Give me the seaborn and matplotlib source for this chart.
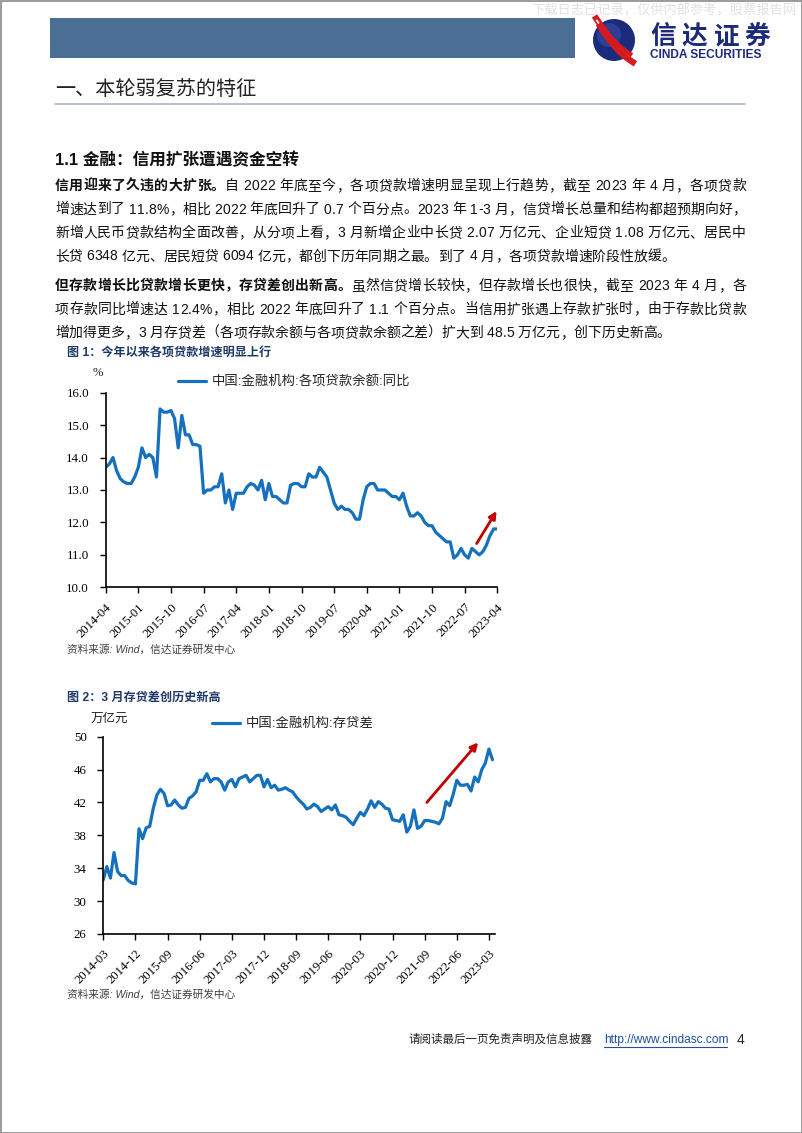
import numpy as np
import pandas as pd
import matplotlib
matplotlib.use("Agg")
import matplotlib.pyplot as plt
import seaborn as sns
from matplotlib import font_manager as fm
from matplotlib.ft2font import FT2Font
from matplotlib.patches import Rectangle, Circle
try:
    from matplotlib.ft2font import LoadFlags
    NOHINT = LoadFlags.NO_HINTING
except ImportError:  # older matplotlib
    from matplotlib.ft2font import LOAD_NO_HINTING as NOHINT

# ---------------------------------------------------------------- data
loan_start = "2014-04"
loan_growth = [
    13.7, 13.8, 14.0, 13.6, 13.35, 13.25, 13.2, 13.2, 13.4, 13.7,
    14.3, 14.0, 14.1, 14.0, 13.4, 15.5, 15.4, 15.4, 15.45, 15.2,
    14.3, 15.3, 14.7, 14.7, 14.4, 14.4, 14.35, 12.9, 13.0, 13.0,
    13.1, 13.1, 13.5, 12.6, 13.0, 12.4, 12.9, 12.9, 12.9, 13.1,
    13.2, 13.15, 13.0, 13.3, 12.7, 13.2, 12.8, 12.8, 12.7, 12.6,
    12.6, 13.15, 13.2, 13.2, 13.1, 13.1, 13.5, 13.4, 13.4, 13.7,
    13.55, 13.4, 13.0, 12.6, 12.4, 12.5, 12.4, 12.4, 12.3, 12.1,
    12.1, 12.7, 13.1, 13.2, 13.2, 13.0, 13.0, 13.0, 12.9, 12.8,
    12.8, 12.7, 12.9, 12.5, 12.2, 12.2, 12.3, 12.2, 12.0, 11.9,
    11.9, 11.7, 11.6, 11.5, 11.4, 11.4, 10.9, 11.0, 11.2, 11.0,
    10.9, 11.2, 11.1, 11.0, 11.1, 11.3, 11.6, 11.8, 11.8,
]
gap_start = "2014-03"
deposit_loan_gap = [
    32.6, 34.2, 32.8, 35.9, 33.6, 33.1, 33.1, 32.5, 32.2, 32.1,
    38.8, 37.6, 38.9, 39.1, 41.3, 42.9, 43.6, 43.1, 41.6, 41.7,
    42.3, 41.7, 41.3, 41.4, 42.5, 42.8, 43.3, 44.7, 44.7, 45.5,
    44.5, 44.9, 44.9, 44.5, 43.5, 44.5, 44.8, 43.9, 44.9, 45.1,
    45.3, 44.5, 44.9, 45.3, 45.3, 43.9, 44.8, 43.8, 44.1, 43.5,
    43.6, 43.8, 43.5, 43.3, 42.7, 42.2, 41.8, 41.2, 41.4, 41.8,
    41.5, 40.9, 41.2, 41.5, 41.1, 41.7, 40.5, 40.4, 40.2, 39.7,
    39.3, 40.1, 40.8, 40.4, 41.2, 42.2, 41.4, 42.1, 41.8, 41.3,
    41.2, 39.9, 39.8, 39.7, 40.5, 38.4, 39.1, 41.1, 38.85, 39.1,
    39.8, 39.8, 39.7, 39.6, 39.4, 40.1, 42.1, 41.6, 43.0, 44.7,
    44.1, 44.1, 44.2, 43.4, 45.1, 44.5, 46.0, 46.8, 48.5, 47.2,
]
chart1_ticks = ["2014-04", "2015-01", "2015-10", "2016-07", "2017-04", "2018-01", "2018-10",
                "2019-07", "2020-04", "2021-01", "2021-10", "2022-07", "2023-04"]
chart2_ticks = ["2014-03", "2014-12", "2015-09", "2016-06", "2017-03", "2017-12", "2018-09",
                "2019-06", "2020-03", "2020-12", "2021-09", "2022-06", "2023-03"]
chart1_yticks = [10.0, 11.0, 12.0, 13.0, 14.0, 15.0, 16.0]
chart2_yticks = [26, 30, 34, 38, 42, 46, 50]
series1_name = "中国:金融机构:各项贷款余额:同比"
series2_name = "中国:金融机构:存贷差"
# trend arrows (month offset, value)
arrow1 = [(102.3, 11.35), (107.8, 12.35)]
arrow2 = [(90.6, 42.0), (105.0, 49.3)]

title_main = "一、本轮弱复苏的特征"
title_sub = "1.1 金融：信用扩张遭遇资金空转"
para1 = [
    [("信用迎来了久违的大扩张。", True), ("自 2022 年底至今，各项贷款增速明显呈现上行趋势，截至 2023 年 4 月，各项贷款", False)],
    [("增速达到了 11.8%，相比 2022 年底回升了 0.7 个百分点。2023 年 1-3 月，信贷增长总量和结构都超预期向好，", False)],
    [("新增人民币贷款结构全面改善，从分项上看，3 月新增企业中长贷 2.07 万亿元、企业短贷 1.08 万亿元、居民中", False)],
    [("长贷 6348 亿元、居民短贷 6094 亿元，都创下历年同期之最。到了 4 月，各项贷款增速阶段性放缓。", False)],
]
para2 = [
    [("但存款增长比贷款增长更快，存贷差创出新高。", True), ("虽然信贷增长较快，但存款增长也很快，截至 2023 年 4 月，各", False)],
    [("项存款同比增速达 12.4%，相比 2022 年底回升了 1.1 个百分点。当信用扩张遇上存款扩张时，由于存款比贷款", False)],
    [("增加得更多，3 月存贷差（各项存款余额与各项贷款余额之差）扩大到 48.5 万亿元，创下历史新高。", False)],
]
cap1 = "图 1：今年以来各项贷款增速明显上行"
cap2 = "图 2：3 月存贷差创历史新高"
source_txt = "资料来源: Wind，信达证券研发中心"
brand_cn = "信达证券"
brand_en = "CINDA SECURITIES"

# ---------------------------------------------------------------- style
sns.set_theme(style="ticks")
FAM = ["Liberation Sans", "Noto Sans CJK SC", "DejaVu Sans"]
SERIF = ["Liberation Serif", "Noto Sans CJK SC"]
plt.rcParams["font.family"] = FAM
plt.rcParams["axes.edgecolor"] = "black"
plt.rcParams["xtick.color"] = "black"
plt.rcParams["ytick.color"] = "black"

LINE_C = "#1570BE"
ARROW_C = "#C00000"
NAVY = "#1F3A68"

W, H = 802, 1133
fig = plt.figure(figsize=(W / 100, H / 100), dpi=100)
fig.patch.set_facecolor("white")

ov = fig.add_axes([0, 0, 1, 1], zorder=0)
ov.set_xlim(0, W)
ov.set_ylim(H, 0)
ov.axis("off")

# ---------------------------------------------------------------- text helpers
FONT_LATIN = "Liberation Sans"
FONT_CJK = "Noto Sans CJK SC"
_fonts = {}


def get_font(family, bold):
    key = (family, bold)
    if key not in _fonts:
        path = fm.findfont(fm.FontProperties(family=family, weight="bold" if bold else "normal"))
        _fonts[key] = FT2Font(path)
    return _fonts[key]


latin_cmap = get_font(FONT_LATIN, False).get_charmap()


def advance(ch, family, bold, size):
    f = get_font(family, bold)
    f.set_size(size, 100)
    g = f.load_char(ord(ch), flags=NOHINT)
    return g.linearHoriAdvance / 65536


def draw_line(runs, x0, y, x1=None, size=10, color="#111111"):
    items = []
    for s, b in runs:
        for ch in s:
            fam = FONT_LATIN if (ord(ch) < 0x2000 and ord(ch) in latin_cmap) else FONT_CJK
            items.append((ch, fam, b, advance(ch, fam, b, size)))
    total = sum(it[3] for it in items)
    gap = (x1 - x0 - total) / (len(items) - 1) if x1 is not None else 0.0
    x = x0
    for ch, fam, b, a in items:
        if ch != " ":
            ov.text(x, y, ch, family=fam, fontweight="bold" if b else "normal", fontsize=size,
                    ha="left", va="baseline", color=color)
        x += a + gap


# ---------------------------------------------------------------- page decoration
ov.add_patch(Rectangle((0.5, 0.5), W - 1, H - 1, fill=False, edgecolor="#8a8a8a", lw=1.2))
ov.add_patch(Rectangle((50, 18), 525, 40, color="#4B6E95", lw=0))
ov.text(531, 11, "下载日志已记录，仅供内部参考，股票报告网", fontsize=9.5, color="#e2e2e2",
        ha="left", va="center")
# logo
logo_circle = Circle((614, 40), 21, color="#1C2C7C", lw=0)
ov.add_patch(logo_circle)
ov.add_patch(Circle((609, 35), 12, color="#3A4FA8", lw=0, alpha=0.55))
tt = np.linspace(0, 1, 40)
for off, lw_, col in [(-5, 4.5, "#D71920"), (-1.2, 1.3, "white"), (2.8, 4.5, "#D71920")]:
    xs = 597 + 37 * tt + off * 0.5
    ys = 21 + 40 * tt + off + 5 * np.sin(np.pi * tt)
    ov.plot(xs, ys, color=col, lw=lw_, solid_capstyle="butt")
for i, ch in enumerate(brand_cn):
    ov.text(650 + i * 31.5, 36.5, ch, fontsize=18.5, fontweight="bold", color="#1D2A7A",
            ha="left", va="center", family=FONT_CJK)
ov.text(650, 54.5, brand_en, fontsize=8.6, fontweight="bold", color="#1D2A7A",
        ha="left", va="center")

# headings
ov.text(55, 89, title_main, fontsize=14.5, color="#222222", ha="left", va="center")
ov.plot([55, 745], [104, 104], color="#A9B8CC", lw=1.2)
ov.text(55, 160, title_sub, fontsize=12, fontweight="bold", color="#111111", ha="left", va="center")

RIGHT = 746
for i, runs in enumerate(para1):
    draw_line(runs, 55, 190 + i * 23.5, RIGHT if i < len(para1) - 1 else None)
for i, runs in enumerate(para2):
    draw_line(runs, 55, 290 + i * 23.5, RIGHT if i < len(para2) - 1 else None)

ov.text(67, 354, cap1, fontsize=8.7, fontweight="bold", color=NAVY, ha="left", va="center")
ov.text(67, 698, cap2, fontsize=8.7, fontweight="bold", color=NAVY, ha="left", va="center")
ov.text(67, 650, source_txt, fontsize=7.7, color="#404040", ha="left", va="center", style="italic")
ov.text(67, 995, source_txt, fontsize=7.7, color="#404040", ha="left", va="center", style="italic")
ov.text(98, 373, "%", fontsize=9, ha="center", va="center", color="#222222", family=SERIF)
ov.text(109, 719, "万亿元", fontsize=9, ha="center", va="center", color="#222222")

# footer
ov.text(408, 1040, "请阅读最后一页免责声明及信息披露", fontsize=8.3, color="#222222", ha="left", va="center")
ov.text(604, 1040, "http://www.cindasc.com", fontsize=8.6, color="#1F4FA0", ha="left", va="center")
ov.plot([604, 727], [1047, 1047], color="#1F4FA0", lw=0.8)
ov.text(737, 1040, "4", fontsize=10, color="#222222", ha="left", va="center")


# ---------------------------------------------------------------- charts
def make_chart(box, start, values, ticks, yticks, name, ylim, xmax, arrow, fmt, leg_anchor):
    l, t, r, b = box
    ax = fig.add_axes([l / W, 1 - b / H, (r - l) / W, (b - t) / H], zorder=2)
    ax.patch.set_alpha(0)
    p0 = pd.Period(start, "M")
    df = pd.DataFrame({"idx": np.arange(len(values)), "value": values})
    sns.lineplot(data=df, x="idx", y="value", ax=ax, color=LINE_C, lw=2.3, label=name)
    tick_pos = [(pd.Period(s, "M") - p0).n for s in ticks]
    ax.set_xticks(tick_pos)
    ax.set_xticklabels(ticks, rotation=45, ha="right", va="top", rotation_mode="anchor",
                       family=SERIF, fontsize=9.2)
    ax.set_yticks(yticks)
    ax.set_yticklabels([fmt.format(v) for v in yticks], family=SERIF, fontsize=9.3)
    ax.set_xlim(0, xmax)
    ax.set_ylim(*ylim)
    ax.set_xlabel("")
    ax.set_ylabel("")
    for s in ["top", "right"]:
        ax.spines[s].set_visible(False)
    for s in ["left", "bottom"]:
        ax.spines[s].set_linewidth(1.2)
        ax.spines[s].set_color("black")
    ax.tick_params(axis="both", direction="out", length=4, width=1)
    ax.tick_params(axis="y", pad=8)
    ax.tick_params(axis="x", pad=6)
    ax.annotate("", xy=arrow[1], xytext=arrow[0],
                arrowprops=dict(arrowstyle="-|>", color=ARROW_C, lw=2.0, mutation_scale=11,
                                shrinkA=0, shrinkB=0))
    ax.legend(loc="center left", bbox_to_anchor=leg_anchor, frameon=False, fontsize=9.6,
              handlelength=2.1, handletextpad=0.45, borderpad=0, borderaxespad=0)
    ax.grid(False)
    return ax


make_chart((105.7, 392.7, 497.3, 587.3), loan_start, loan_growth, chart1_ticks, chart1_yticks,
           series1_name, (10, 16), 108, arrow1, "{:.1f}", (0.185, 1.055))
make_chart((103.3, 736.7, 495.0, 934.0), gap_start, deposit_loan_gap, chart2_ticks, chart2_yticks,
           series2_name, (26, 50), 109.7, arrow2, "{:d}", (0.278, 1.064))

fig.savefig("out.png", dpi=100)
